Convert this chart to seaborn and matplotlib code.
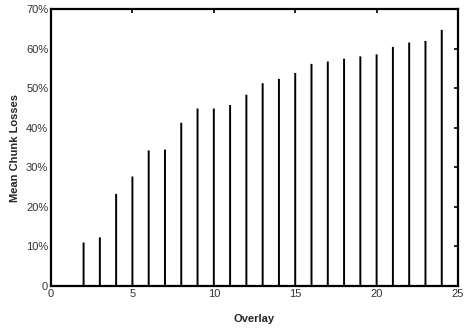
import matplotlib
matplotlib.use("Agg")
import matplotlib.pyplot as plt
import seaborn as sns
import pandas as pd
from matplotlib.ticker import FuncFormatter

overlay = [2, 3, 4, 5, 6, 7, 8, 9, 10, 11, 12, 13, 14, 15, 16, 17, 18, 19, 20, 21, 22, 23, 24]
losses = [11.0, 12.3, 23.3, 27.7, 34.3, 34.5, 41.3, 44.9, 44.9, 45.8, 48.4, 51.3, 52.4, 53.9,
          56.2, 56.8, 57.5, 58.1, 58.6, 60.5, 61.6, 62.0, 64.8]
x_ticks = [0, 5, 10, 15, 20, 25]
y_ticks = [0, 10, 20, 30, 40, 50, 60, 70]

sns.set_theme(style="white")
plt.rcParams['font.family'] = ['Liberation Sans', 'DejaVu Sans']

df = pd.DataFrame({"Overlay": overlay, "Loss": losses})

fig = plt.figure(figsize=(4.65, 3.29), dpi=100)
ax = fig.add_axes([0.1097, 0.1307, 0.985 - 0.1097, 0.9717 - 0.1307])
sns.barplot(data=df, x="Overlay", y="Loss", native_scale=True, width=0.12,
            color="black", linewidth=0, saturation=1, ax=ax)
for p in ax.patches:
    p.set_snap(False)

ax.set_xlim(0, 25)
ax.set_ylim(0, 70)
ax.set_xticks(x_ticks)
ax.set_yticks(y_ticks)
ax.yaxis.set_major_formatter(FuncFormatter(lambda v, p: "0" if v == 0 else f"{int(v)}%"))
ax.tick_params(direction="in", length=3, width=1.2, top=True, right=True,
               labelsize=8, labelcolor="#333333", pad=2, color="black")
for s in ax.spines.values():
    s.set_visible(True)
    s.set_color("black")
    s.set_linewidth(1.6)
ax.set_xlabel("Overlay", fontsize=8, fontweight="bold", labelpad=11)
ax.set_ylabel("Mean Chunk Losses", fontsize=8, fontweight="bold", labelpad=4)
ax.grid(False)

fig.savefig("out.png", dpi=100)
